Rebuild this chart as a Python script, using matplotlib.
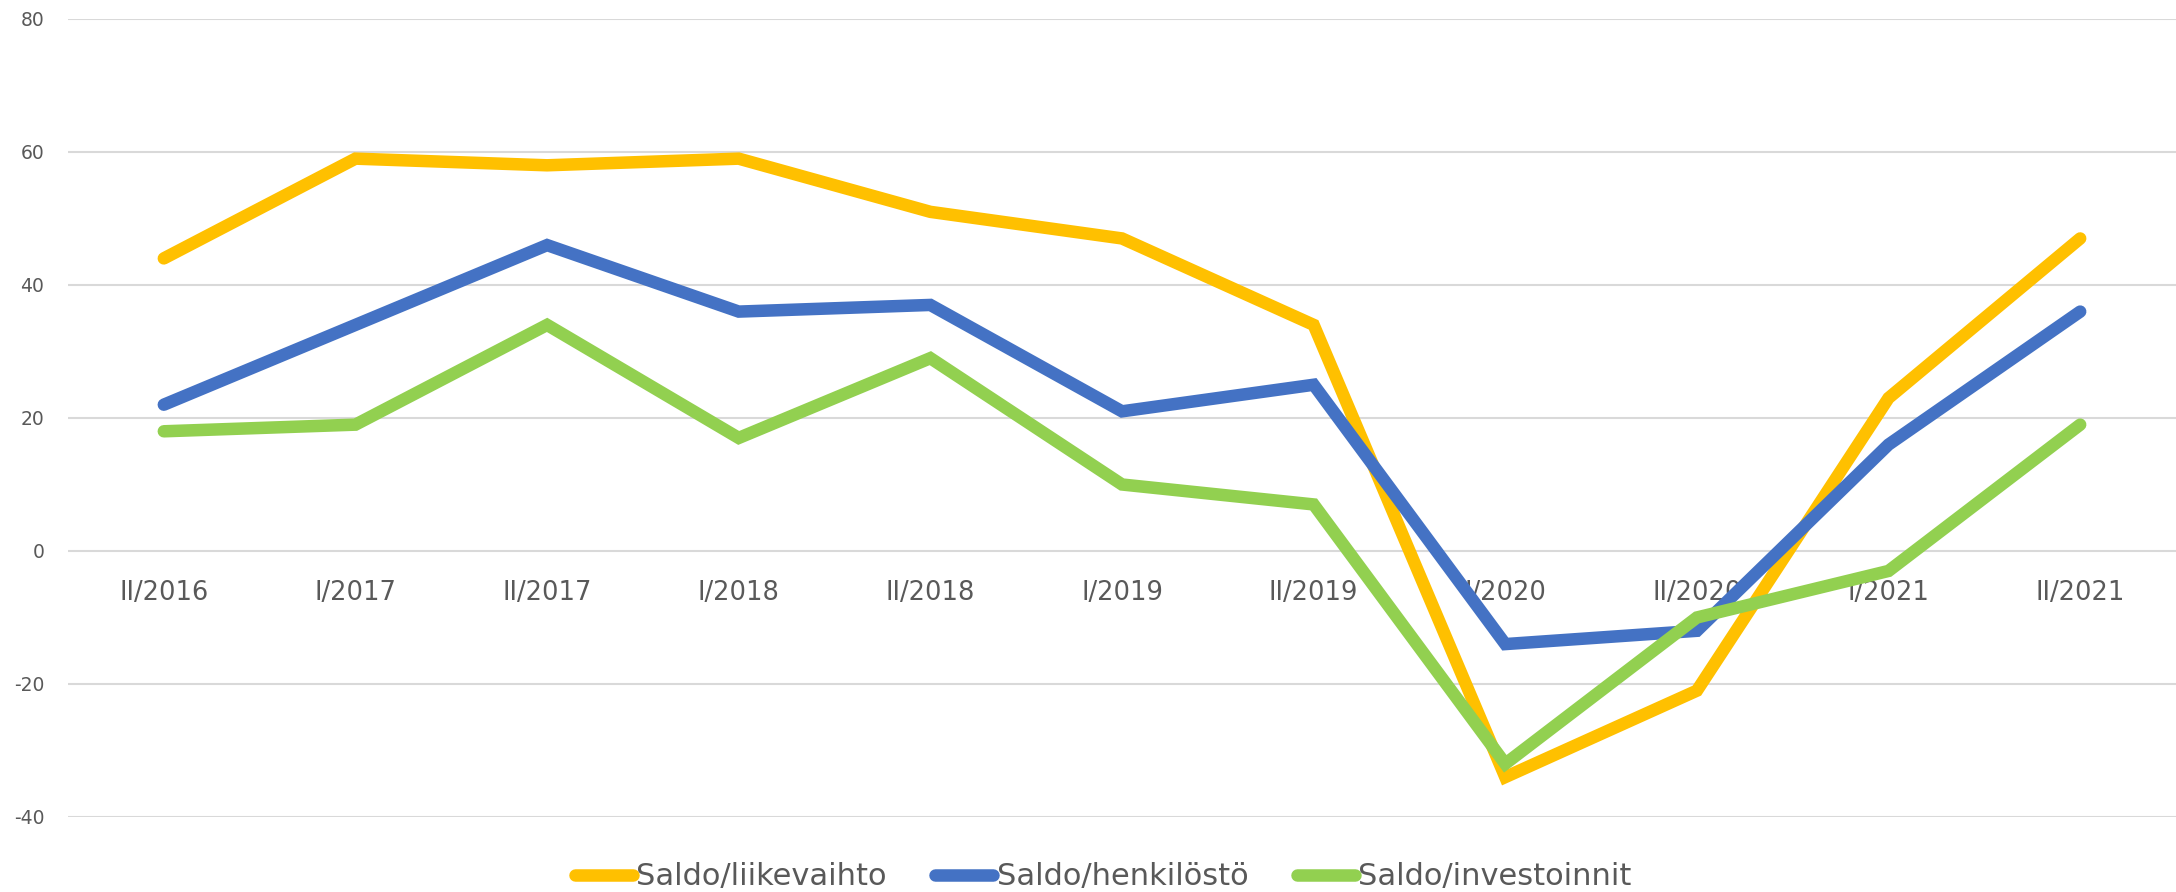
import numpy as np
from matplotlib import pyplot as plt

# categories (half-years) and balance figures
kaudet = ['II/2016', 'I/2017', 'II/2017', 'I/2018', 'II/2018', 'I/2019',
          'II/2019', 'I/2020', 'II/2020', 'I/2021', 'II/2021']
liikevaihto = [44, 59, 58, 59, 51, 47, 34, -34, -21, 23, 47]
henkilosto = [22, 34, 46, 36, 37, 21, 25, -14, -12, 16, 36]
investoinnit = [18, 19, 34, 17, 29, 10, 7, -32, -10, -3, 19]
y_ticks = [-40, -20, 0, 20, 40, 60, 80]

text_color = '#595959'
plt.rcParams['font.family'] = ['DejaVu Sans']

fig = plt.figure(figsize=(21.76, 8.92), dpi=100)
ax = fig.add_axes([0.03125, 0.0841, 0.96875, 0.8946])

x = np.arange(len(kaudet))
#series in Excel order, later ones on top
ax.plot(x, liikevaihto, color='#FFC000', lw=9, solid_capstyle='round',
        solid_joinstyle='miter', label='Saldo/liikevaihto', zorder=3)
ax.plot(x, henkilosto, color='#4472C4', lw=9, solid_capstyle='round',
        solid_joinstyle='miter', label='Saldo/henkilöstö', zorder=4)
ax.plot(x, investoinnit, color='#92D050', lw=9, solid_capstyle='round',
        solid_joinstyle='miter', label='Saldo/investoinnit', zorder=5)

ax.set_xlim(-0.5, len(kaudet) - 0.5)
ax.set_ylim(-40, 80)
ax.set_yticks(y_ticks)
ax.set_yticklabels([str(v) for v in y_ticks])
ax.set_xticks(x)
ax.set_xticklabels(kaudet)

#category axis crosses at zero
ax.spines['bottom'].set_position(('data', 0))
for s in ax.spines.values():
    s.set_visible(False)
ax.yaxis.grid(True, color='#D9D9D9', lw=1.5)
ax.set_axisbelow(True)
ax.tick_params(axis='y', length=0, pad=17, labelsize=13.5, labelcolor=text_color)
ax.tick_params(axis='x', length=0, pad=21, labelsize=18.5, labelcolor=text_color)

leg = fig.legend(loc='center', bbox_to_anchor=(0.507, 0.017), ncol=3,
                 frameon=False, fontsize=22, handlelength=1.9,
                 handletextpad=0.1, columnspacing=1.6, borderpad=0)
for t in leg.get_texts():
    t.set_color(text_color)

plt.savefig('out.png', dpi=100)
plt.close()
